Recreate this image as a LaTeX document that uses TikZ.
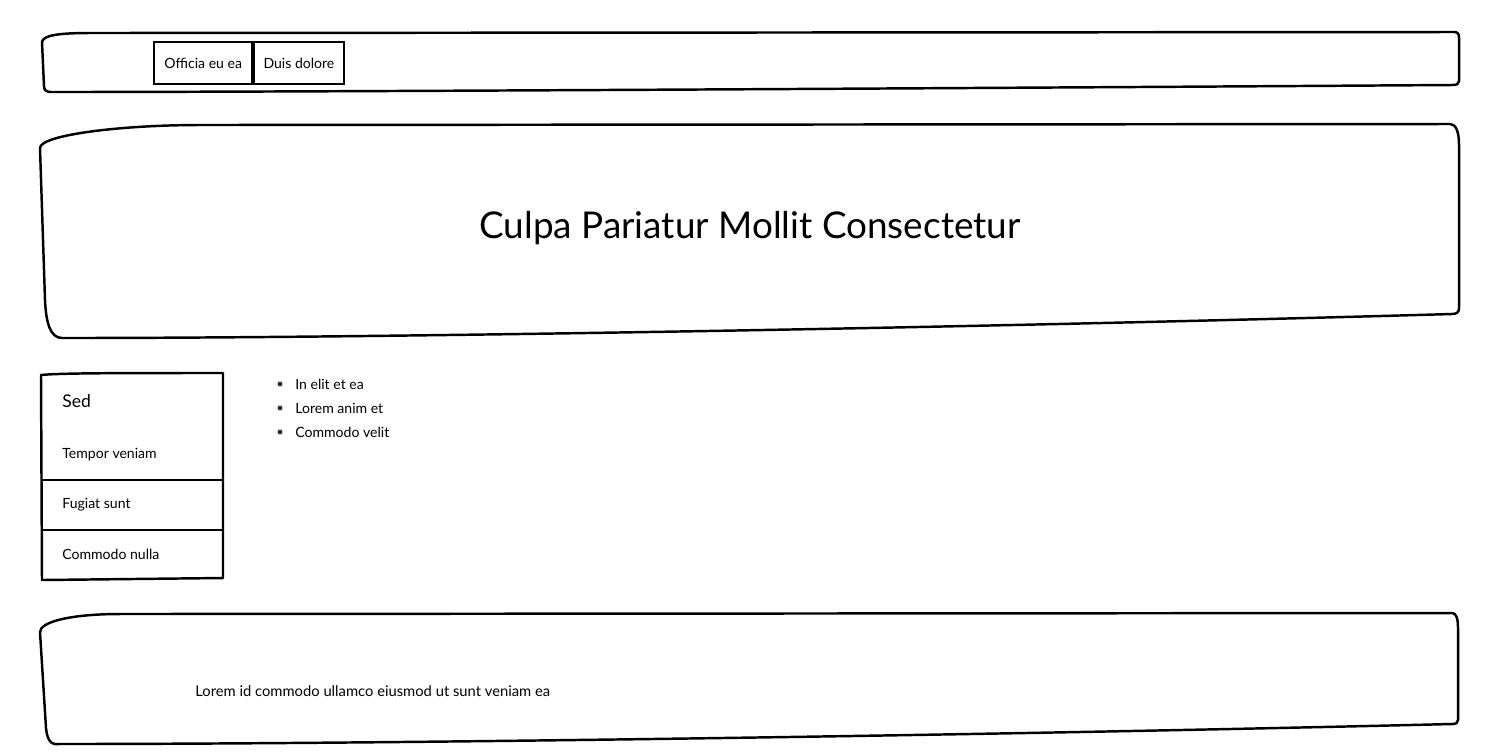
\documentclass[tikz,border=0pt]{standalone}
\usepackage{fontspec}
\setmainfont{Lato}
\usetikzlibrary{positioning}

\tikzset{
  sketch/.style={line width=1.4pt, line join=round, draw=black},
  navitem/.style={draw, line width=1.4pt, minimum height=0.84cm, inner sep=0pt, font=\fontsize{8}{9}\selectfont},
  sideitem/.style={anchor=west, inner sep=0pt, font=\fontsize{8}{9}\selectfont},
  listitem/.style={anchor=west, inner sep=0pt, font=\fontsize{8}{9}\selectfont},
}

\begin{document}
\begin{tikzpicture}[x=0.02cm, y=-0.02cm]
  \useasboundingbox (0,0) rectangle (1500,752);

  % navigation bar
  \draw[sketch] (42,42) .. controls (43,35) and (60,33) .. (90,33) -- (1454,32)
    .. controls (1458,32) and (1459,34) .. (1459,38) -- (1459,81)
    .. controls (1459,84) and (1457,85) .. (1452,85)
    .. controls (1000,88) and (300,92) .. (51,92)
    .. controls (46,92) and (44,90) .. (44,86) -- cycle;
  \node[navitem, minimum width=1.96cm, anchor=north west] (officia) at (153,41) {Officia eu ea};
  \node[navitem, minimum width=1.80cm, right=-0.4pt of officia] (duis) {Duis dolore};

  % hero
  \draw[sketch] (40,148) .. controls (40,135) and (120,125) .. (200,125) -- (1450,124)
    .. controls (1456,124) and (1459,132) .. (1459,145) -- (1459,308)
    .. controls (1459,312) and (1457,314) .. (1452,314)
    .. controls (1000,327) and (400,338) .. (62,338)
    .. controls (50,338) and (46,322) .. (45,300) -- cycle;
  \node[font=\fontsize{21}{24}\selectfont] (title) at (750,228) {Culpa Pariatur Mollit Consectetur};

  % sidebar
  \draw[sketch] (41,375) .. controls (60,373) and (120,373) .. (223,373) -- (223,578)
    -- (42,580) -- cycle;
  \draw[sketch] (41,480) -- (223,480);
  \draw[sketch] (41,530) -- (223,530);
  \node[sideitem, font=\fontsize{10}{12}\selectfont] (sed) at (62,401) {Sed};
  \node[sideitem] (tempor) at (62,455) {Tempor veniam};
  \node[sideitem] (fugiat) at (62,505) {Fugiat sunt};
  \node[sideitem] (nulla) at (62,554) {Commodo nulla};

  % list
  \foreach \y/\txt [count=\i] in {384/In elit et ea, 408/Lorem anim et, 432/Commodo velit} {
    \fill[black!80] (280,\y) circle (2.5);
    \node[listitem] (item\i) at (295,\y) {\txt};
  }

  % footer
  \draw[sketch] (40,632) .. controls (40,622) and (70,614) .. (120,614) -- (1452,613)
    .. controls (1456,613) and (1458,618) .. (1458,628) -- (1458,720)
    .. controls (1458,723) and (1456,724) .. (1452,724)
    .. controls (1000,735) and (400,744) .. (55,744)
    .. controls (50,744) and (47,738) .. (46,728) -- cycle;
  \node[sideitem, font=\fontsize{8.4}{10}\selectfont] (footer) at (195,691) {Lorem id commodo ullamco eiusmod ut sunt veniam ea};
\end{tikzpicture}
\end{document}
